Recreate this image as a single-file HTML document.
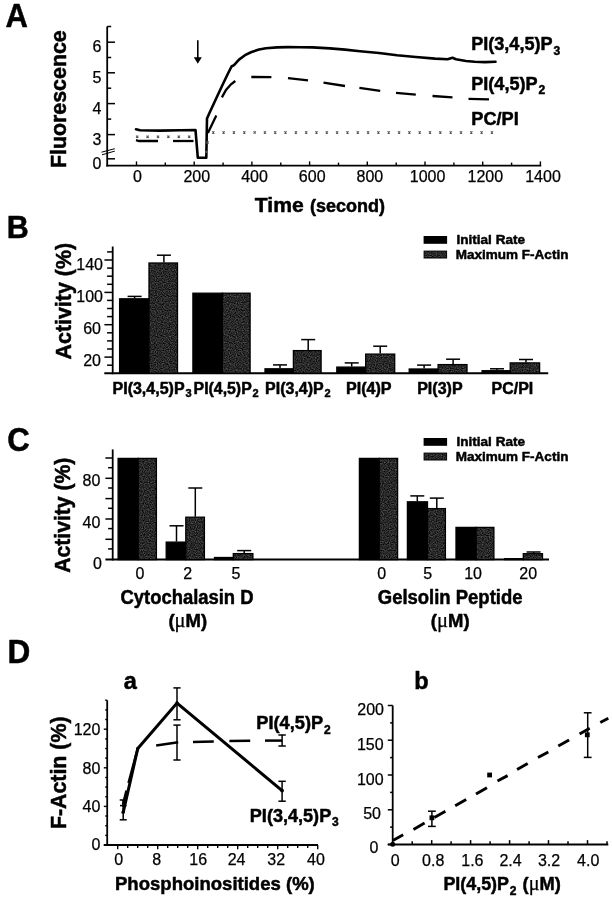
<!DOCTYPE html>
<html lang="en">
<head>
<meta charset="utf-8">
<title>Figure</title>
<style>
html,body{margin:0;padding:0;background:#fff;}
body{width:612px;height:900px;overflow:hidden;}
svg{display:block;font-family:"Liberation Sans",Arial,Helvetica,sans-serif;}
svg text{fill:#000;stroke:#000;stroke-width:0.25px;stroke-linejoin:round;}
svg text[font-weight=bold]{stroke-width:0.5px;}
svg tspan.n{stroke-width:0.25px;}
svg line, svg polyline, svg path{stroke:#000;fill:none;}
</style>
</head>
<body>
<svg width="612" height="900" viewBox="0 0 612 900">
<defs>
<filter id="stip" x="0" y="0" width="100%" height="100%" color-interpolation-filters="sRGB">
<feTurbulence type="fractalNoise" baseFrequency="0.85" numOctaves="1" seed="7" result="t"/>
<feColorMatrix in="t" type="matrix" values="0.6 0 0 0 -0.14  0.6 0 0 0 -0.14  0.6 0 0 0 -0.14  0 0 0 0 1"/>
<feComposite in2="SourceGraphic" operator="in"/>
</filter>
</defs>
<rect width="612" height="900" fill="#fff"/>

<text x="5.5" y="27.4" font-size="32.5" font-weight="bold" text-anchor="start" textLength="22.4" lengthAdjust="spacingAndGlyphs" >A</text>
<text x="6.7" y="238.4" font-size="32" font-weight="bold" text-anchor="start" textLength="22.0" lengthAdjust="spacingAndGlyphs" >B</text>
<text x="7.3" y="450.7" font-size="33" font-weight="bold" text-anchor="start" textLength="22.5" lengthAdjust="spacingAndGlyphs" >C</text>
<text x="7.5" y="663.1" font-size="32.5" font-weight="bold" text-anchor="start" textLength="22.8" lengthAdjust="spacingAndGlyphs" >D</text>
<g id="panelA">
<line x1="107.2" y1="26.5" x2="107.2" y2="166.5" stroke-width="1.8" />
<line x1="106.3" y1="165.6" x2="541.2" y2="165.6" stroke-width="1.9" />
<line x1="107.2" y1="26.5" x2="111.2" y2="26.5" stroke-width="1.5" />
<line x1="107.2" y1="42.2" x2="115.0" y2="42.2" stroke-width="1.5" />
<line x1="107.2" y1="72.8" x2="115.0" y2="72.8" stroke-width="1.5" />
<line x1="107.2" y1="103.6" x2="115.0" y2="103.6" stroke-width="1.5" />
<line x1="107.2" y1="134.6" x2="115.0" y2="134.6" stroke-width="1.5" />
<line x1="107.2" y1="158.8" x2="115.0" y2="158.8" stroke-width="1.5" />
<line x1="107.2" y1="57.5" x2="111.2" y2="57.5" stroke-width="1.5" />
<line x1="107.2" y1="88.2" x2="111.2" y2="88.2" stroke-width="1.5" />
<line x1="107.2" y1="119.1" x2="111.2" y2="119.1" stroke-width="1.5" />
<line x1="101.5" y1="152.2" x2="114.8" y2="148.7" stroke-width="1.0" />
<line x1="102.0" y1="154.8" x2="114.8" y2="151.1" stroke-width="1.0" />
<text x="101.3" y="52.3" font-size="16" text-anchor="end" >6</text>
<text x="101.3" y="82.9" font-size="16" text-anchor="end" >5</text>
<text x="101.3" y="113.7" font-size="16" text-anchor="end" >4</text>
<text x="101.3" y="144.7" font-size="16" text-anchor="end" >3</text>
<text x="101.3" y="168.9" font-size="16" text-anchor="end" >0</text>
<line x1="136.5" y1="165.6" x2="136.5" y2="161.4" stroke-width="1.4" />
<line x1="165.3" y1="165.6" x2="165.3" y2="162.6" stroke-width="1.4" />
<line x1="194.2" y1="165.6" x2="194.2" y2="161.4" stroke-width="1.4" />
<line x1="223.1" y1="165.6" x2="223.1" y2="162.6" stroke-width="1.4" />
<line x1="251.9" y1="165.6" x2="251.9" y2="161.4" stroke-width="1.4" />
<line x1="280.8" y1="165.6" x2="280.8" y2="162.6" stroke-width="1.4" />
<line x1="309.6" y1="165.6" x2="309.6" y2="161.4" stroke-width="1.4" />
<line x1="338.5" y1="165.6" x2="338.5" y2="162.6" stroke-width="1.4" />
<line x1="367.3" y1="165.6" x2="367.3" y2="161.4" stroke-width="1.4" />
<line x1="396.2" y1="165.6" x2="396.2" y2="162.6" stroke-width="1.4" />
<line x1="425.0" y1="165.6" x2="425.0" y2="161.4" stroke-width="1.4" />
<line x1="453.9" y1="165.6" x2="453.9" y2="162.6" stroke-width="1.4" />
<line x1="482.7" y1="165.6" x2="482.7" y2="161.4" stroke-width="1.4" />
<line x1="511.6" y1="165.6" x2="511.6" y2="162.6" stroke-width="1.4" />
<line x1="540.4" y1="165.6" x2="540.4" y2="161.4" stroke-width="1.4" />
<text x="137.5" y="182.2" font-size="16" text-anchor="middle" >0</text>
<text x="196.8" y="182.2" font-size="16" text-anchor="middle" >200</text>
<text x="254.5" y="182.2" font-size="16" text-anchor="middle" >400</text>
<text x="312.2" y="182.2" font-size="16" text-anchor="middle" >600</text>
<text x="369.9" y="182.2" font-size="16" text-anchor="middle" >800</text>
<text x="427.6" y="182.2" font-size="16" text-anchor="middle" >1000</text>
<text x="485.3" y="182.2" font-size="16" text-anchor="middle" >1200</text>
<text x="543.0" y="182.2" font-size="16" text-anchor="middle" >1400</text>
<text x="254.8" y="212.4" font-size="21" font-weight="bold" text-anchor="start" textLength="49.0" lengthAdjust="spacingAndGlyphs" >Time</text>
<text x="310.0" y="212.4" font-size="18" font-weight="bold" text-anchor="start" textLength="75.0" lengthAdjust="spacingAndGlyphs" >(second)</text>
<text transform="translate(66.0,99.2) rotate(-90)" font-size="22" font-weight="bold" text-anchor="middle" textLength="137.8" lengthAdjust="spacingAndGlyphs">Fluorescence</text>
<line x1="197.8" y1="40.3" x2="197.8" y2="59.0" stroke-width="1.6" />
<path d="M193.8 57.2 L201.8 57.2 L197.8 63.8 Z" style="fill:#000;stroke:none"/>
<polyline points="136,129.2 140,130.2 160,130.6 180,130.3 195.5,130.1 197.8,157.7 206.3,157.7 207,118.5 209,114 215,101 222,86 228,73.5 231.5,66.5 234,65.2 239,59.6 245,55.2 251.5,52 259,49.6 266,48.2 277,47.4 288,47.1 300,47.2 312.5,47.4 330,48.4 345,49.6 360,51.2 379,53 397,55.3 415.8,57 435,58.6 447.6,59.3 452.5,57.8 456,59.3 466,61 474.7,61.8 485,62.1 495.5,61.8" stroke-width="2.6" stroke-linejoin="round" stroke-linecap="round"/>
<polyline points="136,140.2 139,141 158,141" stroke-width="2.3"/>
<polyline points="173,141 193.5,141" stroke-width="2.3"/>
<polyline points="207.9,133 216.3,115.4" stroke-width="2.3"/>
<polyline points="221.9,97.4 226,90 231,84.3 235.3,81" stroke-width="2.3"/>
<polyline points="251.3,77 271.4,77.1" stroke-width="2.3"/>
<polyline points="288,78.2 308,80.3" stroke-width="2.3"/>
<polyline points="323.5,82.6 345,86" stroke-width="2.3"/>
<polyline points="359.4,87.9 380.2,90.9" stroke-width="2.3"/>
<polyline points="396,92.8 415.8,94.6" stroke-width="2.3"/>
<polyline points="432.5,96 452.5,97.3" stroke-width="2.3"/>
<polyline points="468.5,98.8 489,99.3" stroke-width="2.3"/>
<g style="stroke:#8a8a8a" stroke-width="0.9">
<path d="M136.1 135.6L138.3 137.8M136.1 137.8L138.3 135.6" style="stroke:#555" stroke-width="1.2"/>
<path d="M146.5 135.6L148.7 137.8M146.5 137.8L148.7 135.6" style="stroke:#555" stroke-width="1.2"/>
<path d="M156.9 135.6L159.1 137.8M156.9 137.8L159.1 135.6" style="stroke:#555" stroke-width="1.2"/>
<path d="M167.3 135.6L169.5 137.8M167.3 137.8L169.5 135.6" style="stroke:#555" stroke-width="1.2"/>
<path d="M177.7 135.6L179.9 137.8M177.7 137.8L179.9 135.6" style="stroke:#555" stroke-width="1.2"/>
<path d="M188.1 135.6L190.3 137.8M188.1 137.8L190.3 135.6" style="stroke:#555" stroke-width="1.2"/>
<path d="M205.4 150.9L207.6 153.1M205.4 153.1L207.6 150.9" style="stroke:#555" stroke-width="1.2"/>
<path d="M206.4 141.4L208.6 143.6M206.4 143.6L208.6 141.4" style="stroke:#555" stroke-width="1.2"/>
<path d="M212.2 131.3L214.4 133.5M212.2 133.5L214.4 131.3" style="stroke:#555" stroke-width="1.2"/>
<path d="M222.5 131.3L224.7 133.5M222.5 133.5L224.7 131.3" style="stroke:#555" stroke-width="1.2"/>
<path d="M232.8 131.3L235.0 133.5M232.8 133.5L235.0 131.3" style="stroke:#555" stroke-width="1.2"/>
<path d="M243.2 131.3L245.4 133.5M243.2 133.5L245.4 131.3" style="stroke:#555" stroke-width="1.2"/>
<path d="M253.5 131.3L255.7 133.5M253.5 133.5L255.7 131.3" style="stroke:#555" stroke-width="1.2"/>
<path d="M263.8 131.3L266.0 133.5M263.8 133.5L266.0 131.3" style="stroke:#555" stroke-width="1.2"/>
<path d="M274.1 131.3L276.3 133.5M274.1 133.5L276.3 131.3" style="stroke:#555" stroke-width="1.2"/>
<path d="M284.4 131.3L286.6 133.5M284.4 133.5L286.6 131.3" style="stroke:#555" stroke-width="1.2"/>
<path d="M294.8 131.3L297.0 133.5M294.8 133.5L297.0 131.3" style="stroke:#555" stroke-width="1.2"/>
<path d="M305.1 131.3L307.3 133.5M305.1 133.5L307.3 131.3" style="stroke:#555" stroke-width="1.2"/>
<path d="M315.4 131.3L317.6 133.5M315.4 133.5L317.6 131.3" style="stroke:#555" stroke-width="1.2"/>
<path d="M325.7 131.3L327.9 133.5M325.7 133.5L327.9 131.3" style="stroke:#555" stroke-width="1.2"/>
<path d="M336.0 131.3L338.2 133.5M336.0 133.5L338.2 131.3" style="stroke:#555" stroke-width="1.2"/>
<path d="M346.4 131.3L348.6 133.5M346.4 133.5L348.6 131.3" style="stroke:#555" stroke-width="1.2"/>
<path d="M356.7 131.3L358.9 133.5M356.7 133.5L358.9 131.3" style="stroke:#555" stroke-width="1.2"/>
<path d="M367.0 131.3L369.2 133.5M367.0 133.5L369.2 131.3" style="stroke:#555" stroke-width="1.2"/>
<path d="M377.3 131.3L379.5 133.5M377.3 133.5L379.5 131.3" style="stroke:#555" stroke-width="1.2"/>
<path d="M387.6 131.3L389.8 133.5M387.6 133.5L389.8 131.3" style="stroke:#555" stroke-width="1.2"/>
<path d="M398.0 131.3L400.2 133.5M398.0 133.5L400.2 131.3" style="stroke:#555" stroke-width="1.2"/>
<path d="M408.3 131.3L410.5 133.5M408.3 133.5L410.5 131.3" style="stroke:#555" stroke-width="1.2"/>
<path d="M418.6 131.3L420.8 133.5M418.6 133.5L420.8 131.3" style="stroke:#555" stroke-width="1.2"/>
<path d="M428.9 131.3L431.1 133.5M428.9 133.5L431.1 131.3" style="stroke:#555" stroke-width="1.2"/>
<path d="M439.2 131.3L441.4 133.5M439.2 133.5L441.4 131.3" style="stroke:#555" stroke-width="1.2"/>
<path d="M449.6 131.3L451.8 133.5M449.6 133.5L451.8 131.3" style="stroke:#555" stroke-width="1.2"/>
<path d="M459.9 131.3L462.1 133.5M459.9 133.5L462.1 131.3" style="stroke:#555" stroke-width="1.2"/>
<path d="M470.2 131.3L472.4 133.5M470.2 133.5L472.4 131.3" style="stroke:#555" stroke-width="1.2"/>
<path d="M480.5 131.3L482.7 133.5M480.5 133.5L482.7 131.3" style="stroke:#555" stroke-width="1.2"/>
<path d="M490.8 131.3L493.0 133.5M490.8 133.5L493.0 131.3" style="stroke:#555" stroke-width="1.2"/>
</g>
<text x="471.2" y="50.2" font-size="18.5" font-weight="bold" textLength="81.4" lengthAdjust="spacingAndGlyphs">PI(3,4,5)P</text>
<text x="553.4" y="54.8" font-size="12" font-weight="bold">3</text>
<text x="471.2" y="89.6" font-size="18.5" font-weight="bold" textLength="66.4" lengthAdjust="spacingAndGlyphs">PI(4,5)P</text>
<text x="538.4" y="94.2" font-size="12" font-weight="bold">2</text>
<text x="471.3" y="125.0" font-size="18.5" font-weight="bold" text-anchor="start" textLength="47.5" lengthAdjust="spacingAndGlyphs" >PC/PI</text>
</g>
<g id="panelB">
<line x1="112.7" y1="246.5" x2="112.7" y2="374.2" stroke-width="1.8" />
<line x1="104.3" y1="373.3" x2="548.2" y2="373.3" stroke-width="2" />
<line x1="107.1" y1="365.2" x2="112.7" y2="365.2" stroke-width="1.5" />
<line x1="104.4" y1="357.1" x2="112.7" y2="357.1" stroke-width="1.5" />
<line x1="107.1" y1="349.0" x2="112.7" y2="349.0" stroke-width="1.5" />
<line x1="107.1" y1="340.9" x2="112.7" y2="340.9" stroke-width="1.5" />
<line x1="107.1" y1="332.8" x2="112.7" y2="332.8" stroke-width="1.5" />
<line x1="104.4" y1="324.7" x2="112.7" y2="324.7" stroke-width="1.5" />
<line x1="107.1" y1="316.6" x2="112.7" y2="316.6" stroke-width="1.5" />
<line x1="107.1" y1="308.5" x2="112.7" y2="308.5" stroke-width="1.5" />
<line x1="107.1" y1="300.4" x2="112.7" y2="300.4" stroke-width="1.5" />
<line x1="104.4" y1="292.4" x2="112.7" y2="292.4" stroke-width="1.5" />
<line x1="107.1" y1="284.3" x2="112.7" y2="284.3" stroke-width="1.5" />
<line x1="107.1" y1="276.2" x2="112.7" y2="276.2" stroke-width="1.5" />
<line x1="107.1" y1="268.1" x2="112.7" y2="268.1" stroke-width="1.5" />
<line x1="104.4" y1="260.0" x2="112.7" y2="260.0" stroke-width="1.5" />
<line x1="107.1" y1="251.9" x2="112.7" y2="251.9" stroke-width="1.5" />
<text x="103.0" y="270.0" font-size="16" text-anchor="end" >140</text>
<text x="103.0" y="301.8" font-size="16" text-anchor="end" >100</text>
<text x="101.0" y="333.6" font-size="16" text-anchor="end" >60</text>
<text x="101.0" y="365.9" font-size="16" text-anchor="end" >20</text>
<text transform="translate(70.8,301.2) rotate(-90)" font-size="22" font-weight="bold" text-anchor="middle" textLength="116.6" lengthAdjust="spacingAndGlyphs">Activity (%)</text>
<line x1="134.6" y1="296.4" x2="134.6" y2="298.3" stroke-width="1.5" />
<line x1="127.6" y1="296.4" x2="141.6" y2="296.4" stroke-width="1.5" />
<line x1="163.9" y1="255.2" x2="163.9" y2="262.5" stroke-width="1.5" />
<line x1="156.9" y1="255.2" x2="170.9" y2="255.2" stroke-width="1.5" />
<rect x="119.6" y="298.8" width="29.4" height="74.5" fill="#000" stroke="#000" stroke-width="1.3"/>
<rect x="149.0" y="263.0" width="28.5" height="110.3" fill="#2c2c2c" filter="url(#stip)"/>
<rect x="149.0" y="263.0" width="28.5" height="110.3" fill="none" stroke="#000" stroke-width="1.3"/>
<rect x="192.9" y="293.2" width="29.6" height="80.1" fill="#000" stroke="#000" stroke-width="1.3"/>
<rect x="222.5" y="293.2" width="27.6" height="80.1" fill="#2c2c2c" filter="url(#stip)"/>
<rect x="222.5" y="293.2" width="27.6" height="80.1" fill="none" stroke="#000" stroke-width="1.3"/>
<line x1="280.0" y1="364.9" x2="280.0" y2="368.3" stroke-width="1.5" />
<line x1="273.0" y1="364.9" x2="287.0" y2="364.9" stroke-width="1.5" />
<line x1="308.2" y1="339.6" x2="308.2" y2="350.1" stroke-width="1.5" />
<line x1="301.2" y1="339.6" x2="315.2" y2="339.6" stroke-width="1.5" />
<rect x="265.0" y="368.8" width="28.4" height="4.5" fill="#000" stroke="#000" stroke-width="1.3"/>
<rect x="293.4" y="350.6" width="27.7" height="22.7" fill="#2c2c2c" filter="url(#stip)"/>
<rect x="293.4" y="350.6" width="27.7" height="22.7" fill="none" stroke="#000" stroke-width="1.3"/>
<line x1="351.7" y1="362.9" x2="351.7" y2="366.6" stroke-width="1.5" />
<line x1="344.7" y1="362.9" x2="358.7" y2="362.9" stroke-width="1.5" />
<line x1="380.2" y1="346.2" x2="380.2" y2="353.6" stroke-width="1.5" />
<line x1="373.2" y1="346.2" x2="387.2" y2="346.2" stroke-width="1.5" />
<rect x="336.8" y="367.1" width="28.9" height="6.2" fill="#000" stroke="#000" stroke-width="1.3"/>
<rect x="365.7" y="354.1" width="29.0" height="19.2" fill="#2c2c2c" filter="url(#stip)"/>
<rect x="365.7" y="354.1" width="29.0" height="19.2" fill="none" stroke="#000" stroke-width="1.3"/>
<line x1="424.1" y1="365.1" x2="424.1" y2="368.5" stroke-width="1.5" />
<line x1="417.1" y1="365.1" x2="431.1" y2="365.1" stroke-width="1.5" />
<line x1="453.1" y1="359.2" x2="453.1" y2="364.1" stroke-width="1.5" />
<line x1="446.1" y1="359.2" x2="460.1" y2="359.2" stroke-width="1.5" />
<rect x="409.2" y="369.0" width="28.9" height="4.3" fill="#000" stroke="#000" stroke-width="1.3"/>
<rect x="438.1" y="364.6" width="28.9" height="8.7" fill="#2c2c2c" filter="url(#stip)"/>
<rect x="438.1" y="364.6" width="28.9" height="8.7" fill="none" stroke="#000" stroke-width="1.3"/>
<line x1="497.0" y1="368.8" x2="497.0" y2="370.2" stroke-width="1.5" />
<line x1="490.0" y1="368.8" x2="504.0" y2="368.8" stroke-width="1.5" />
<line x1="526.0" y1="359.5" x2="526.0" y2="362.4" stroke-width="1.5" />
<line x1="519.0" y1="359.5" x2="533.0" y2="359.5" stroke-width="1.5" />
<rect x="482.1" y="370.7" width="28.1" height="2.6" fill="#000" stroke="#000" stroke-width="1.3"/>
<rect x="510.2" y="362.9" width="29.4" height="10.4" fill="#2c2c2c" filter="url(#stip)"/>
<rect x="510.2" y="362.9" width="29.4" height="10.4" fill="none" stroke="#000" stroke-width="1.3"/>
<text x="112.5" y="393.6" font-size="16" font-weight="bold" textLength="72.1" lengthAdjust="spacingAndGlyphs">PI(3,4,5)P</text>
<text x="185.4" y="397.0" font-size="11" font-weight="bold">3</text>
<text x="193.6" y="393.6" font-size="16" font-weight="bold" textLength="58.1" lengthAdjust="spacingAndGlyphs">PI(4,5)P</text>
<text x="252.5" y="397.0" font-size="11" font-weight="bold">2</text>
<text x="265.1" y="393.6" font-size="16" font-weight="bold" textLength="58.6" lengthAdjust="spacingAndGlyphs">PI(3,4)P</text>
<text x="324.5" y="397.0" font-size="11" font-weight="bold">2</text>
<text x="346.0" y="393.6" font-size="16" font-weight="bold" text-anchor="start" textLength="45.6" lengthAdjust="spacingAndGlyphs" >PI(4)P</text>
<text x="417.2" y="393.6" font-size="16" font-weight="bold" text-anchor="start" textLength="45.4" lengthAdjust="spacingAndGlyphs" >PI(3)P</text>
<text x="491.6" y="393.6" font-size="16" font-weight="bold" text-anchor="start" textLength="41.6" lengthAdjust="spacingAndGlyphs" >PC/PI</text>
<rect x="423.6" y="236.0" width="23.5" height="7.8" fill="#000"/>
<rect x="424.1" y="251.1" width="22.5" height="6.9" fill="#2c2c2c" filter="url(#stip)"/>
<rect x="424.1" y="251.1" width="22.5" height="6.9" fill="none" stroke="#000" stroke-width="1"/>
<text x="456.5" y="243.8" font-size="13.5" font-weight="bold" text-anchor="start" textLength="68.5" lengthAdjust="spacingAndGlyphs" >Initial Rate</text>
<text x="455.8" y="258.5" font-size="13.5" font-weight="bold" text-anchor="start" textLength="112.6" lengthAdjust="spacingAndGlyphs" >Maximum F-Actin</text>
</g>
<g id="panelC">
<line x1="112.7" y1="449.4" x2="112.7" y2="560.5" stroke-width="1.8" />
<line x1="105.4" y1="559.6" x2="549.0" y2="559.6" stroke-width="2" />
<line x1="108.1" y1="548.9" x2="112.7" y2="548.9" stroke-width="1.5" />
<line x1="105.4" y1="539.3" x2="112.7" y2="539.3" stroke-width="1.5" />
<line x1="108.1" y1="528.6" x2="112.7" y2="528.6" stroke-width="1.5" />
<line x1="105.4" y1="519.0" x2="112.7" y2="519.0" stroke-width="1.5" />
<line x1="108.1" y1="508.3" x2="112.7" y2="508.3" stroke-width="1.5" />
<line x1="105.4" y1="498.6" x2="112.7" y2="498.6" stroke-width="1.5" />
<line x1="108.1" y1="488.0" x2="112.7" y2="488.0" stroke-width="1.5" />
<line x1="105.4" y1="478.3" x2="112.7" y2="478.3" stroke-width="1.5" />
<line x1="108.1" y1="467.7" x2="112.7" y2="467.7" stroke-width="1.5" />
<line x1="105.4" y1="458.0" x2="112.7" y2="458.0" stroke-width="1.5" />
<text x="100.4" y="485.6" font-size="16" text-anchor="end" >80</text>
<text x="100.4" y="528.1" font-size="16" text-anchor="end" >40</text>
<text x="102.0" y="568.5" font-size="16" text-anchor="end" >0</text>
<text transform="translate(70.3,515.2) rotate(-90)" font-size="22" font-weight="bold" text-anchor="middle" textLength="115.1" lengthAdjust="spacingAndGlyphs">Activity (%)</text>
<rect x="118.1" y="458.4" width="20.1" height="101.2" fill="#000" stroke="#000" stroke-width="1.3"/>
<rect x="138.2" y="458.4" width="18.2" height="101.2" fill="#2c2c2c" filter="url(#stip)"/>
<rect x="138.2" y="458.4" width="18.2" height="101.2" fill="none" stroke="#000" stroke-width="1.3"/>
<line x1="176.5" y1="525.8" x2="176.5" y2="541.6" stroke-width="1.5" />
<line x1="169.5" y1="525.8" x2="183.5" y2="525.8" stroke-width="1.5" />
<line x1="195.3" y1="488.0" x2="195.3" y2="516.7" stroke-width="1.5" />
<line x1="188.3" y1="488.0" x2="202.3" y2="488.0" stroke-width="1.5" />
<rect x="166.2" y="542.1" width="19.6" height="17.5" fill="#000" stroke="#000" stroke-width="1.3"/>
<rect x="185.8" y="517.2" width="18.6" height="42.4" fill="#2c2c2c" filter="url(#stip)"/>
<rect x="185.8" y="517.2" width="18.6" height="42.4" fill="none" stroke="#000" stroke-width="1.3"/>
<line x1="244.2" y1="550.6" x2="244.2" y2="553.1" stroke-width="1.5" />
<line x1="237.2" y1="550.6" x2="251.2" y2="550.6" stroke-width="1.5" />
<rect x="214.5" y="557.5" width="18.8" height="2.1" fill="#000" stroke="#000" stroke-width="1.3"/>
<rect x="233.3" y="553.6" width="19.6" height="6.0" fill="#2c2c2c" filter="url(#stip)"/>
<rect x="233.3" y="553.6" width="19.6" height="6.0" fill="none" stroke="#000" stroke-width="1.3"/>
<rect x="359.4" y="458.4" width="19.8" height="101.2" fill="#000" stroke="#000" stroke-width="1.3"/>
<rect x="379.2" y="458.4" width="18.4" height="101.2" fill="#2c2c2c" filter="url(#stip)"/>
<rect x="379.2" y="458.4" width="18.4" height="101.2" fill="none" stroke="#000" stroke-width="1.3"/>
<line x1="417.3" y1="495.9" x2="417.3" y2="501.3" stroke-width="1.5" />
<line x1="410.3" y1="495.9" x2="424.3" y2="495.9" stroke-width="1.5" />
<line x1="436.8" y1="498.1" x2="436.8" y2="508.1" stroke-width="1.5" />
<line x1="429.8" y1="498.1" x2="443.8" y2="498.1" stroke-width="1.5" />
<rect x="407.4" y="501.8" width="20.1" height="57.8" fill="#000" stroke="#000" stroke-width="1.3"/>
<rect x="427.5" y="508.6" width="17.9" height="51.0" fill="#2c2c2c" filter="url(#stip)"/>
<rect x="427.5" y="508.6" width="17.9" height="51.0" fill="none" stroke="#000" stroke-width="1.3"/>
<rect x="456.0" y="527.4" width="20.2" height="32.2" fill="#000" stroke="#000" stroke-width="1.3"/>
<rect x="476.2" y="527.4" width="17.7" height="32.2" fill="#2c2c2c" filter="url(#stip)"/>
<rect x="476.2" y="527.4" width="17.7" height="32.2" fill="none" stroke="#000" stroke-width="1.3"/>
<line x1="533.6" y1="552.0" x2="533.6" y2="553.2" stroke-width="1.5" />
<line x1="526.6" y1="552.0" x2="540.6" y2="552.0" stroke-width="1.5" />
<rect x="504.7" y="558.7" width="18.6" height="0.9" fill="#000" stroke="#000" stroke-width="1.3"/>
<rect x="523.3" y="553.7" width="19.2" height="5.9" fill="#2c2c2c" filter="url(#stip)"/>
<rect x="523.3" y="553.7" width="19.2" height="5.9" fill="none" stroke="#000" stroke-width="1.3"/>
<text x="140.0" y="578.8" font-size="16" text-anchor="middle" >0</text>
<text x="187.7" y="578.8" font-size="16" text-anchor="middle" >2</text>
<text x="236.0" y="578.8" font-size="16" text-anchor="middle" >5</text>
<text x="381.7" y="578.8" font-size="16" text-anchor="middle" >0</text>
<text x="427.7" y="578.8" font-size="16" text-anchor="middle" >5</text>
<text x="473.1" y="578.8" font-size="16" text-anchor="middle" >10</text>
<text x="528.2" y="578.8" font-size="16" text-anchor="middle" >20</text>
<text x="120.5" y="604.0" font-size="19.5" font-weight="bold" text-anchor="start" textLength="133.0" lengthAdjust="spacingAndGlyphs" >Cytochalasin D</text>
<text x="377.8" y="604.0" font-size="19.5" font-weight="bold" text-anchor="start" textLength="144.7" lengthAdjust="spacingAndGlyphs" >Gelsolin Peptide</text>
<text x="168.4" y="626.8" font-size="18.5" font-weight="bold">(<tspan class="n" font-weight="normal" font-family="Liberation Serif, serif" font-size="20.5">μ</tspan>M)</text>
<text x="430.8" y="626.8" font-size="18.5" font-weight="bold">(<tspan class="n" font-weight="normal" font-family="Liberation Serif, serif" font-size="20.5">μ</tspan>M)</text>
<rect x="423.6" y="438.0" width="23.5" height="7.8" fill="#000"/>
<rect x="424.1" y="453.1" width="22.5" height="6.9" fill="#2c2c2c" filter="url(#stip)"/>
<rect x="424.1" y="453.1" width="22.5" height="6.9" fill="none" stroke="#000" stroke-width="1"/>
<text x="456.5" y="445.8" font-size="13.5" font-weight="bold" text-anchor="start" textLength="68.5" lengthAdjust="spacingAndGlyphs" >Initial Rate</text>
<text x="455.8" y="460.5" font-size="13.5" font-weight="bold" text-anchor="start" textLength="112.6" lengthAdjust="spacingAndGlyphs" >Maximum F-Actin</text>
</g>
<g id="panelDa">
<text x="123.7" y="689.2" font-size="23.5" font-weight="bold" text-anchor="start" >a</text>
<line x1="107.2" y1="700.3" x2="107.2" y2="845.9" stroke-width="1.8" />
<line x1="103.8" y1="845.0" x2="318.0" y2="845.0" stroke-width="1.9" />
<line x1="103.8" y1="845.0" x2="107.2" y2="845.0" stroke-width="1.4" />
<line x1="105.2" y1="835.4" x2="107.2" y2="835.4" stroke-width="1.4" />
<line x1="105.2" y1="825.7" x2="107.2" y2="825.7" stroke-width="1.4" />
<line x1="105.2" y1="816.0" x2="107.2" y2="816.0" stroke-width="1.4" />
<line x1="103.8" y1="806.4" x2="107.2" y2="806.4" stroke-width="1.4" />
<line x1="105.2" y1="796.8" x2="107.2" y2="796.8" stroke-width="1.4" />
<line x1="105.2" y1="787.1" x2="107.2" y2="787.1" stroke-width="1.4" />
<line x1="105.2" y1="777.5" x2="107.2" y2="777.5" stroke-width="1.4" />
<line x1="103.8" y1="767.8" x2="107.2" y2="767.8" stroke-width="1.4" />
<line x1="105.2" y1="758.1" x2="107.2" y2="758.1" stroke-width="1.4" />
<line x1="105.2" y1="748.5" x2="107.2" y2="748.5" stroke-width="1.4" />
<line x1="105.2" y1="738.9" x2="107.2" y2="738.9" stroke-width="1.4" />
<line x1="103.8" y1="729.2" x2="107.2" y2="729.2" stroke-width="1.4" />
<line x1="105.2" y1="719.5" x2="107.2" y2="719.5" stroke-width="1.4" />
<line x1="105.2" y1="709.9" x2="107.2" y2="709.9" stroke-width="1.4" />
<line x1="105.2" y1="700.2" x2="107.2" y2="700.2" stroke-width="1.4" />
<text x="100.4" y="735.0" font-size="16" text-anchor="end" >120</text>
<text x="100.4" y="773.5" font-size="16" text-anchor="end" >80</text>
<text x="100.4" y="811.7" font-size="16" text-anchor="end" >40</text>
<text x="100.4" y="849.7" font-size="16" text-anchor="end" >0</text>
<line x1="117.7" y1="845.0" x2="117.7" y2="849.2" stroke-width="1.4" />
<line x1="127.7" y1="845.0" x2="127.7" y2="848.0" stroke-width="1.4" />
<line x1="137.7" y1="845.0" x2="137.7" y2="848.0" stroke-width="1.4" />
<line x1="147.7" y1="845.0" x2="147.7" y2="848.0" stroke-width="1.4" />
<line x1="157.7" y1="845.0" x2="157.7" y2="849.2" stroke-width="1.4" />
<line x1="167.7" y1="845.0" x2="167.7" y2="848.0" stroke-width="1.4" />
<line x1="177.7" y1="845.0" x2="177.7" y2="848.0" stroke-width="1.4" />
<line x1="187.7" y1="845.0" x2="187.7" y2="848.0" stroke-width="1.4" />
<line x1="197.7" y1="845.0" x2="197.7" y2="849.2" stroke-width="1.4" />
<line x1="207.7" y1="845.0" x2="207.7" y2="848.0" stroke-width="1.4" />
<line x1="217.7" y1="845.0" x2="217.7" y2="848.0" stroke-width="1.4" />
<line x1="227.7" y1="845.0" x2="227.7" y2="848.0" stroke-width="1.4" />
<line x1="237.7" y1="845.0" x2="237.7" y2="849.2" stroke-width="1.4" />
<line x1="247.7" y1="845.0" x2="247.7" y2="848.0" stroke-width="1.4" />
<line x1="257.7" y1="845.0" x2="257.7" y2="848.0" stroke-width="1.4" />
<line x1="267.7" y1="845.0" x2="267.7" y2="848.0" stroke-width="1.4" />
<line x1="277.7" y1="845.0" x2="277.7" y2="849.2" stroke-width="1.4" />
<line x1="287.7" y1="845.0" x2="287.7" y2="848.0" stroke-width="1.4" />
<line x1="297.7" y1="845.0" x2="297.7" y2="848.0" stroke-width="1.4" />
<line x1="307.7" y1="845.0" x2="307.7" y2="848.0" stroke-width="1.4" />
<line x1="317.7" y1="845.0" x2="317.7" y2="849.2" stroke-width="1.4" />
<text x="118.6" y="864.7" font-size="16" text-anchor="middle" >0</text>
<text x="156.8" y="864.7" font-size="16" text-anchor="middle" >8</text>
<text x="198.2" y="864.7" font-size="16" text-anchor="middle" >16</text>
<text x="236.6" y="864.7" font-size="16" text-anchor="middle" >24</text>
<text x="276.2" y="864.7" font-size="16" text-anchor="middle" >32</text>
<text x="316.0" y="864.7" font-size="16" text-anchor="middle" >40</text>
<text transform="translate(66.0,772.8) rotate(-90)" font-size="22" font-weight="bold" text-anchor="middle" textLength="112.6" lengthAdjust="spacingAndGlyphs">F-Actin (%)</text>
<text x="115.0" y="890.0" font-size="19" font-weight="bold" text-anchor="start" textLength="199.8" lengthAdjust="spacingAndGlyphs" >Phosphoinositides (%)</text>
<polyline points="123,804 126.5,790.5" stroke-width="2.5"/>
<polyline points="128.5,783 137.8,748.4" stroke-width="2.5"/>
<polyline points="156.2,745.5 178.2,742.3" stroke-width="2.5"/>
<polyline points="193,742 213.8,741.4" stroke-width="2.5"/>
<polyline points="229.4,741 250.2,740.8" stroke-width="2.5"/>
<polyline points="265,740.6 282.1,740.6" stroke-width="2.5"/>
<line x1="177.0" y1="725.1" x2="177.0" y2="760.0" stroke-width="1.5" />
<line x1="173.4" y1="725.1" x2="180.6" y2="725.1" stroke-width="1.5" />
<line x1="173.4" y1="760.0" x2="180.6" y2="760.0" stroke-width="1.5" />
<line x1="282.1" y1="735.0" x2="282.1" y2="746.0" stroke-width="1.5" />
<line x1="278.4" y1="735.0" x2="285.8" y2="735.0" stroke-width="1.5" />
<line x1="278.4" y1="746.0" x2="285.8" y2="746.0" stroke-width="1.5" />
<polyline points="123.2,812.3 137.8,748.4 177,703 282.1,790.6" stroke-width="3" stroke-linejoin="miter"/>
<line x1="177.0" y1="687.9" x2="177.0" y2="719.8" stroke-width="1.5" />
<line x1="173.4" y1="687.9" x2="180.6" y2="687.9" stroke-width="1.5" />
<line x1="173.4" y1="719.8" x2="180.6" y2="719.8" stroke-width="1.5" />
<line x1="282.1" y1="781.3" x2="282.1" y2="801.2" stroke-width="1.5" />
<line x1="278.4" y1="781.3" x2="285.8" y2="781.3" stroke-width="1.5" />
<line x1="278.4" y1="801.2" x2="285.8" y2="801.2" stroke-width="1.5" />
<line x1="123.2" y1="800.0" x2="123.2" y2="819.8" stroke-width="1.5" />
<line x1="119.7" y1="800.0" x2="126.7" y2="800.0" stroke-width="1.5" />
<line x1="119.7" y1="819.8" x2="126.7" y2="819.8" stroke-width="1.5" />
<circle cx="123.2" cy="812.3" r="1.8" style="fill:#000"/>
<line x1="120.0" y1="805.6" x2="126.6" y2="805.6" stroke-width="1.5" />
<circle cx="123.6" cy="805.4" r="1.7" style="fill:#000"/>
<circle cx="137.8" cy="748.4" r="1.6" style="fill:#000"/>
<circle cx="282.1" cy="790.6" r="1.9" style="fill:#000"/>
<circle cx="177" cy="703" r="1.7" style="fill:#000"/>
<text x="256.3" y="728.8" font-size="18.5" font-weight="bold" textLength="66.8" lengthAdjust="spacingAndGlyphs">PI(4,5)P</text>
<text x="323.9" y="733.6" font-size="12" font-weight="bold">2</text>
<text x="249.8" y="821.8" font-size="18.5" font-weight="bold" textLength="81.4" lengthAdjust="spacingAndGlyphs">PI(3,4,5)P</text>
<text x="332.0" y="826.4" font-size="12" font-weight="bold">3</text>
</g>
<g id="panelDb">
<text x="414.3" y="689.4" font-size="23.5" font-weight="bold" text-anchor="start" >b</text>
<line x1="392.7" y1="705.5" x2="392.7" y2="845.4" stroke-width="1.8" />
<line x1="387.8" y1="844.5" x2="608.3" y2="844.5" stroke-width="1.9" />
<line x1="387.8" y1="844.5" x2="392.7" y2="844.5" stroke-width="1.5" />
<line x1="390.1" y1="827.1" x2="392.7" y2="827.1" stroke-width="1.5" />
<line x1="387.8" y1="809.8" x2="392.7" y2="809.8" stroke-width="1.5" />
<line x1="390.1" y1="792.4" x2="392.7" y2="792.4" stroke-width="1.5" />
<line x1="387.8" y1="775.0" x2="392.7" y2="775.0" stroke-width="1.5" />
<line x1="390.1" y1="757.6" x2="392.7" y2="757.6" stroke-width="1.5" />
<line x1="387.8" y1="740.2" x2="392.7" y2="740.2" stroke-width="1.5" />
<line x1="390.1" y1="722.9" x2="392.7" y2="722.9" stroke-width="1.5" />
<line x1="387.8" y1="705.5" x2="392.7" y2="705.5" stroke-width="1.5" />
<text x="384.0" y="715.2" font-size="16" text-anchor="end" >200</text>
<text x="383.6" y="750.2" font-size="16" text-anchor="end" >150</text>
<text x="383.6" y="784.8" font-size="16" text-anchor="end" >100</text>
<text x="381.0" y="819.2" font-size="16" text-anchor="end" >50</text>
<text x="378.4" y="853.0" font-size="16" text-anchor="end" >0</text>
<line x1="412.2" y1="844.5" x2="412.2" y2="841.3" stroke-width="1.5" />
<line x1="431.7" y1="844.5" x2="431.7" y2="840.1" stroke-width="1.5" />
<line x1="451.1" y1="844.5" x2="451.1" y2="841.3" stroke-width="1.5" />
<line x1="470.6" y1="844.5" x2="470.6" y2="840.1" stroke-width="1.5" />
<line x1="490.1" y1="844.5" x2="490.1" y2="841.3" stroke-width="1.5" />
<line x1="509.6" y1="844.5" x2="509.6" y2="840.1" stroke-width="1.5" />
<line x1="529.1" y1="844.5" x2="529.1" y2="841.3" stroke-width="1.5" />
<line x1="548.5" y1="844.5" x2="548.5" y2="840.1" stroke-width="1.5" />
<line x1="568.0" y1="844.5" x2="568.0" y2="841.3" stroke-width="1.5" />
<line x1="587.5" y1="844.5" x2="587.5" y2="840.1" stroke-width="1.5" />
<line x1="607.0" y1="844.5" x2="607.0" y2="841.3" stroke-width="1.5" />
<text x="395.1" y="865.5" font-size="16" text-anchor="middle" >0</text>
<text x="433.2" y="865.5" font-size="16" text-anchor="middle" >0.8</text>
<text x="472.4" y="865.5" font-size="16" text-anchor="middle" >1.6</text>
<text x="510.6" y="865.5" font-size="16" text-anchor="middle" >2.4</text>
<text x="549.0" y="865.5" font-size="16" text-anchor="middle" >3.2</text>
<text x="588.2" y="865.5" font-size="16" text-anchor="middle" >4.0</text>
<line x1="392.9" y1="840.4" x2="403.2" y2="834.8" stroke-width="2.9" />
<line x1="413.5" y1="829.4" x2="424.6" y2="823.1" stroke-width="2.9" />
<line x1="434.4" y1="817.5" x2="445.4" y2="811.3" stroke-width="2.9" />
<line x1="455.2" y1="805.7" x2="466.2" y2="799.5" stroke-width="2.9" />
<line x1="476.0" y1="793.9" x2="487.0" y2="787.7" stroke-width="2.9" />
<line x1="497.5" y1="781.0" x2="507.6" y2="775.6" stroke-width="2.9" />
<line x1="517.1" y1="769.6" x2="527.7" y2="763.5" stroke-width="2.9" />
<line x1="538.0" y1="757.6" x2="548.3" y2="751.9" stroke-width="2.9" />
<line x1="558.3" y1="746.0" x2="569.1" y2="740.0" stroke-width="2.9" />
<line x1="579.6" y1="733.9" x2="589.7" y2="728.3" stroke-width="2.9" />
<line x1="600.3" y1="722.5" x2="608.3" y2="718.2" stroke-width="2.9" />
<line x1="431.9" y1="811.2" x2="431.9" y2="826.4" stroke-width="1.5" />
<line x1="428.0" y1="811.2" x2="435.8" y2="811.2" stroke-width="1.5" />
<line x1="428.0" y1="826.4" x2="435.8" y2="826.4" stroke-width="1.5" />
<line x1="587.7" y1="712.8" x2="587.7" y2="757.4" stroke-width="1.5" />
<line x1="583.8" y1="712.8" x2="591.6" y2="712.8" stroke-width="1.5" />
<line x1="583.8" y1="757.4" x2="591.6" y2="757.4" stroke-width="1.5" />
<rect x="429.5" y="815.4" width="4.8" height="4.8" style="fill:#000"/>
<rect x="487.2" y="772.6" width="4.8" height="4.8" style="fill:#000"/>
<rect x="584.9" y="732.4" width="4.8" height="4.8" style="fill:#000"/>
<circle cx="392.7" cy="844.3" r="2.5" style="fill:#000"/>
<text x="443.4" y="890.4" font-size="19" font-weight="bold" textLength="65.6" lengthAdjust="spacingAndGlyphs">PI(4,5)P</text>
<text x="509.8" y="894.8" font-size="12" font-weight="bold">2</text>
<text x="522.6" y="890.4" font-size="19" font-weight="bold" textLength="38.2" lengthAdjust="spacingAndGlyphs">(<tspan class="n" font-weight="normal" font-family="Liberation Serif, serif" font-size="21">μ</tspan>M)</text>
</g>
</svg>
</body>
</html>
